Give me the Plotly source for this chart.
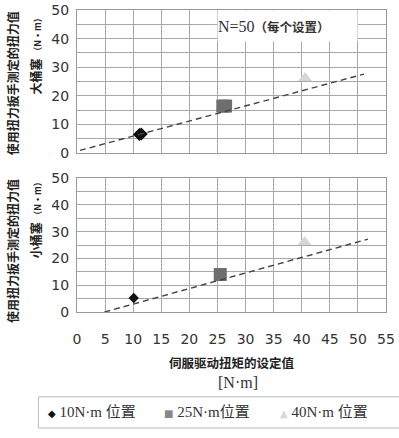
import plotly.graph_objects as go

# ---- data ----
settings = ["10N·m 位置", "25N·m位置", "40N·m 位置"]
colors = ["#111111", "#6e6e6e", "#d6d6d6"]
legend_colors = ["#111111", "#888888", "#d8d8d8"]
symbols = ["diamond", "square", "triangle-up"]
legend_glyphs = ["◆", "■", "▲"]

# large plug (upper panel): clustered measured torque, N=50 each
big_x = [[11.1, 11.45], [25.95, 26.45], [40.6]]
big_y = [[6.5, 6.6], [16.4, 16.4], [26.2]]
# small plug (lower panel)
small_x = [[10.1], [25.5], [40.5]]
small_y = [[5.2], [14.0], [26.1]]

# dashed trend lines
big_line_x = [-1.2, 51.1]
big_line_y = [0.0, 27.6]
small_line_x = [-2.0, 51.8]
small_line_y = [-4.0, 27.2]

x_ticks = [0, 5, 10, 15, 20, 25, 30, 35, 40, 45, 50, 55]
y_ticks = [0, 10, 20, 30, 40, 50]

fig = go.Figure()

for i in range(3):
    fig.add_trace(go.Scatter(x=big_x[i], y=big_y[i], mode="markers", xaxis="x", yaxis="y",
                             name=settings[i],
                             marker=dict(symbol=symbols[i], color=colors[i],
                                         size=[10, 13, 12][i], line=dict(width=0)),
                             showlegend=False))
    fig.add_trace(go.Scatter(x=small_x[i], y=small_y[i], mode="markers", xaxis="x2", yaxis="y2",
                             name=settings[i],
                             marker=dict(symbol=symbols[i], color=colors[i],
                                         size=[8, 13, 12][i], line=dict(width=0)),
                             showlegend=False))

fig.add_trace(go.Scatter(x=big_line_x, y=big_line_y, mode="lines", xaxis="x", yaxis="y",
                         line=dict(color="#444", width=1.4, dash="6px,4px"), showlegend=False))
fig.add_trace(go.Scatter(x=small_line_x, y=small_line_y, mode="lines", xaxis="x2", yaxis="y2",
                         line=dict(color="#444", width=1.4, dash="6px,4px"), showlegend=False))

grid = "#a8a8a8"
tickfont = dict(family="DejaVu Sans", size=14, color="#333")

def xax(anchor, show_labels):
    return dict(range=[0, 55], tickvals=x_ticks, showticklabels=show_labels,
                showgrid=True, gridcolor=grid, gridwidth=1, zeroline=False,
                showline=True, linecolor="#999", mirror=True, tickfont=tickfont,
                ticks="outside", ticklen=14, tickcolor="rgba(0,0,0,0)",
                anchor=anchor, fixedrange=True, automargin=False)

def yax(domain, anchor):
    return dict(range=[0, 50], tickvals=y_ticks, domain=domain, anchor=anchor,
                showgrid=True, gridcolor=grid, gridwidth=1, zeroline=False,
                minor=dict(dtick=5, showgrid=True, gridcolor=grid, gridwidth=1),
                showline=True, linecolor="#999", mirror=True, tickfont=tickfont,
                ticks="outside", ticklen=4, tickcolor="rgba(0,0,0,0)",
                fixedrange=True, automargin=False)

fig.update_layout(
    width=399, height=438,
    margin=dict(l=77, r=13, t=10, b=126),
    paper_bgcolor="white", plot_bgcolor="white",
    xaxis=xax("y", False),
    yaxis=yax([0.5265, 1.0], "x"),
    xaxis2=xax("y2", True),
    yaxis2=yax([0.0, 0.4437], "x2"),
    showlegend=False,
)

title_font = dict(family="Noto Sans CJK SC", size=12, color="#222")
annos = [
    dict(text="<b>使用扭力扳手测定的扭力值</b>", x=-0.21, y=0.758),
    dict(text="<b>大桶塞</b> <span style='font-size:9px'><b>（N·m）</b></span>", x=-0.135, y=0.854),
    dict(text="<b>使用扭力扳手测定的扭力值</b>", x=-0.207, y=0.202),
    dict(text="<b>小桶塞</b> <span style='font-size:9px'><b>（N·m）</b></span>", x=-0.135, y=0.311),
]
for a in annos:
    fig.add_annotation(xref="paper", yref="paper", showarrow=False, font=title_font,
                       textangle=-90, xanchor="center", yanchor="middle", **a)

fig.add_annotation(xref="paper", yref="paper", x=0.503, y=-0.166, showarrow=False,
                   xanchor="center", yanchor="middle",
                   text="<b>伺服驱动扭矩的设定值</b>",
                   font=dict(family="Noto Sans CJK SC", size=12.5, color="#222"))
fig.add_annotation(xref="paper", yref="paper", x=0.52, y=-0.232, showarrow=False,
                   xanchor="center", yanchor="middle",
                   text="[N·m]", font=dict(family="Liberation Serif", size=16, color="#333"))

# N=50 note with white box
fig.add_annotation(xref="x domain", yref="y domain", x=0.4545, y=0.888, showarrow=False,
                   xanchor="left", yanchor="middle", width=139, height=30, align="left",
                   bgcolor="white", borderpad=0,
                   text="N=50<b><span style='font-size:12.5px'>（每个设置）</span></b>",
                   font=dict(family="Liberation Serif, Noto Sans CJK SC", size=16, color="#333"))

# legend box (drawn as layout items)
fig.add_shape(type="rect", xref="paper", yref="paper", x0=-0.125, x1=1.0507, y0=-0.384, y1=-0.281,
              line=dict(color="#bbbbbb", width=1), fillcolor="white")
legend_x = [-0.101, 0.274, 0.652]
for i in range(3):
    fig.add_annotation(xref="paper", yref="paper", x=legend_x[i], y=-0.331, showarrow=False,
                       xanchor="left", yanchor="middle",
                       text=(f"<span style='font-family:DejaVu Sans;font-size:10px;color:{legend_colors[i]}'>"
                             f"{legend_glyphs[i]}</span> {settings[i]}"),
                       font=dict(family="Liberation Serif, Noto Sans CJK SC", size=15, color="#333"))

fig.write_html("out.html", config={"displayModeBar": False},
               post_script="document.body.style.margin='0';")
